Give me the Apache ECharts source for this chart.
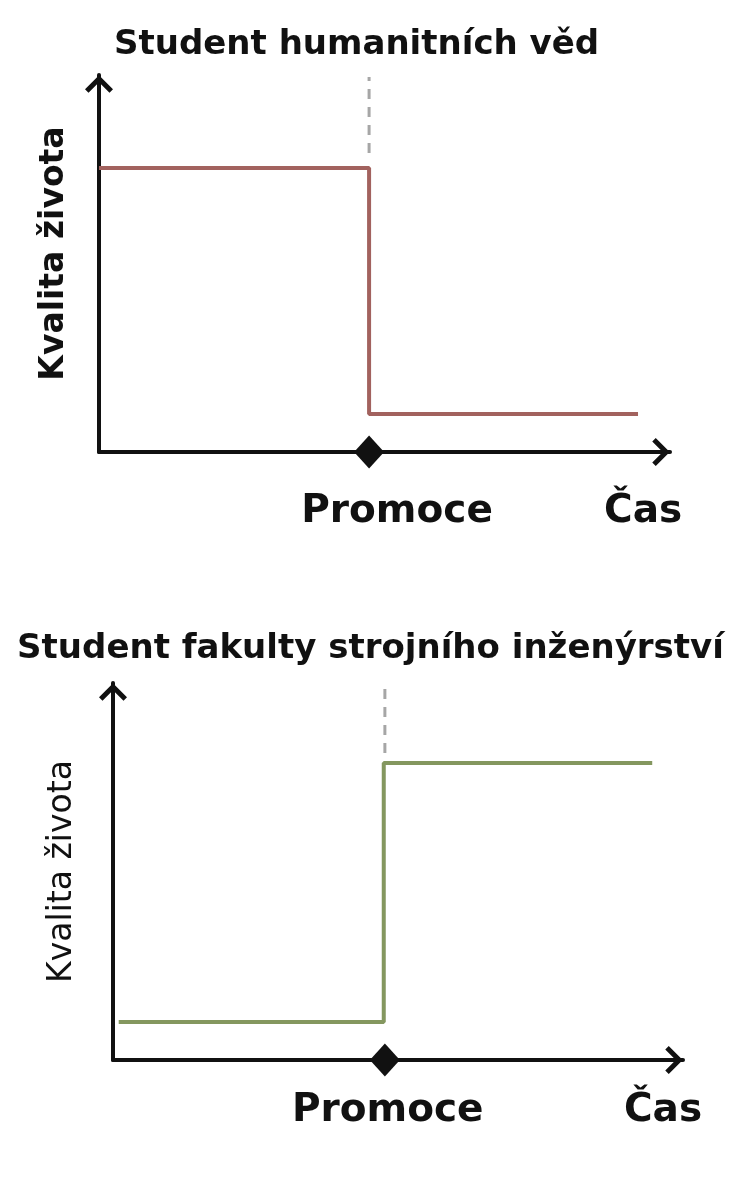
<!DOCTYPE html>
<html>
<head>
<meta charset="utf-8">
<script src="https://cdn.jsdelivr.net/npm/echarts@6/dist/echarts.min.js"></script>
<style>
html,body{margin:0;padding:0;background:#fff;}
#chart{width:741px;height:1199px;}
</style>
</head>
<body>
<div id="chart"></div>
<script>
// ---- data ----
const titles = ['Student humanitních věd', 'Student fakulty strojního inženýrství'];
const yAxisName = 'Kvalita života';
const xAxisLabels = ['Promoce', 'Čas'];

// Student humanitních věd
const humanTime = [0, 47.3, 47.3, 94.4];
const humanQuality = [75.3, 75.3, 10.1, 10.1];
const humanGraduation = 47.3;
const humanGuide = [79.3, 99.5];
const humanLabelAt = [52.2, 95.3];

// Student fakulty strojního inženýrství
const engTime = [1, 47.5, 47.5, 94.6];
const engQuality = [10.1, 10.1, 78.8, 78.8];
const engGraduation = 47.7;
const engGuide = [81.4, 100];
const engLabelAt = [48.2, 96.5];

// ---- chart ----
const FONT = 'DejaVu Sans';
const AXIS_COLOR = '#111111';
const chevron = 'path://M14,0 L28,14 L24.5,17.5 L14,7 L3.5,17.5 L0,14 Z';

function pairs(xs, ys) { return xs.map((x, i) => [x, ys[i]]); }

function xAxisFor(gridIndex, labelAt, margin) {
  return {
    type: 'value', gridIndex, min: 0, max: 100,
    axisLine: { show: true, lineStyle: { color: AXIS_COLOR, width: 4 },
      symbol: ['none', chevron], symbolSize: [28, 17.5], symbolOffset: [0, -9] },
    axisTick: { show: false },
    splitLine: { show: false },
    axisLabel: {
      customValues: labelAt,
      margin,
      formatter: v => { const i = labelAt.indexOf(v); return i >= 0 ? xAxisLabels[i] : ''; },
      color: '#111', fontFamily: FONT, fontWeight: 'bold', fontSize: 39
    }
  };
}
function yAxisFor(gridIndex, gap, weight, pad) {
  return {
    type: 'value', gridIndex, min: 0, max: 100,
    name: yAxisName, nameLocation: 'middle', nameRotate: 90, nameGap: gap,
    nameTextStyle: { color: '#111', fontFamily: FONT, fontWeight: weight, fontSize: 33, padding: pad },
    axisLine: { show: true, lineStyle: { color: AXIS_COLOR, width: 4 },
      symbol: ['none', chevron], symbolSize: [28, 17.5], symbolOffset: [0, -9] },
    axisTick: { show: false },
    splitLine: { show: false },
    axisLabel: { show: false }
  };
}

const option = {
  backgroundColor: '#ffffff',
  animation: false,
  title: [
    { text: titles[0], left: 114, top: 28, padding: 0,
      textStyle: { fontFamily: FONT, fontWeight: 'bold', fontSize: 34, color: '#111' } },
    { text: titles[1], left: 'center', top: 632, padding: 0,
      textStyle: { fontFamily: FONT, fontWeight: 'bold', fontSize: 34, color: '#111' } }
  ],
  grid: [
    { left: 99, top: 75, width: 571, height: 377 },
    { left: 113, top: 683, width: 570, height: 377 }
  ],
  xAxis: [xAxisFor(0, humanLabelAt, 40), xAxisFor(1, engLabelAt, 31)],
  yAxis: [yAxisFor(0, 28, 'bold', [0, 0, 0, 20]), yAxisFor(1, 34, 'normal', 0)],
  series: [
    { type: 'line', xAxisIndex: 0, yAxisIndex: 0, data: [[humanGraduation, humanGuide[0]], [humanGraduation, humanGuide[1]]],
      symbol: 'none', lineStyle: { color: '#a6a6a6', width: 3, type: [10, 8] }, silent: true },
    { type: 'line', xAxisIndex: 0, yAxisIndex: 0, data: pairs(humanTime, humanQuality),
      symbol: 'none', lineStyle: { color: '#a2625e', width: 4 }, silent: true },
    { type: 'scatter', xAxisIndex: 0, yAxisIndex: 0, data: [[humanGraduation, 0]], clip: false,
      symbol: 'diamond', symbolSize: [30, 33], itemStyle: { color: '#111', opacity: 1 }, z: 10, silent: true },

    { type: 'line', xAxisIndex: 1, yAxisIndex: 1, data: [[engGraduation, engGuide[0]], [engGraduation, engGuide[1]]],
      symbol: 'none', lineStyle: { color: '#a6a6a6', width: 3, type: [10, 8] }, silent: true },
    { type: 'line', xAxisIndex: 1, yAxisIndex: 1, data: pairs(engTime, engQuality),
      symbol: 'none', lineStyle: { color: '#84975f', width: 4 }, silent: true },
    { type: 'scatter', xAxisIndex: 1, yAxisIndex: 1, data: [[engGraduation, 0]], clip: false,
      symbol: 'diamond', symbolSize: [30, 33], itemStyle: { color: '#111', opacity: 1 }, z: 10, silent: true }
  ]
};

const chart = echarts.init(document.getElementById('chart'), null, { renderer: 'canvas' });
chart.setOption(option);
</script>
</body>
</html>
